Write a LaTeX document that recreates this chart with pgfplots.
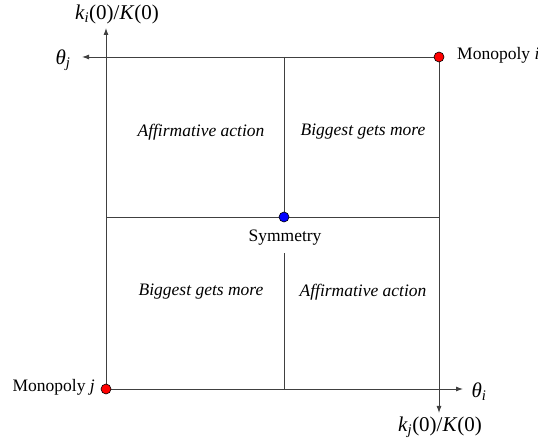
\documentclass[border=0pt]{standalone}
\usepackage{pgfplots}
\pgfplotsset{compat=1.18}
\usetikzlibrary{arrows.meta}
\usepackage{fontspec}
\setmainfont{Liberation Serif}
\definecolor{linegray}{HTML}{404040}
\begin{document}
\begin{tikzpicture}
\begin{axis}[
  width=538pt, height=447pt, scale only axis,
  xmin=0, xmax=538, ymin=0, ymax=447,
  hide axis, clip=false,
]
\addplot[draw=none, forget plot] coordinates {(0,0) (538,447)};
% outer axes with arrows
\addplot[linegray, line width=0.9pt, -{Latex[length=7pt,width=5pt]}] coordinates {(106,58) (106,419)};
\addplot[linegray, line width=0.9pt, -{Latex[length=7pt,width=5pt]}] coordinates {(439,390) (82,390)};
\addplot[linegray, line width=0.9pt, -{Latex[length=7pt,width=5pt]}] coordinates {(439,390) (439,34)};
\addplot[linegray, line width=0.9pt, -{Latex[length=7pt,width=5pt]}] coordinates {(106,58) (463,58)};
% middle lines
\addplot[linegray, line width=0.9pt] coordinates {(284,390) (284,58)};
\addplot[linegray, line width=0.9pt] coordinates {(106,230) (439,230)};
% Symmetry label with white background
\node[fill=white, inner xsep=2pt, minimum height=31pt, font=\fontsize{17.5}{20}\selectfont] at (axis cs:285,209.5) {Symmetry};
% dots
\addplot[only marks, mark=*, mark size=5pt, mark options={fill=red, draw=black, line width=0.6pt}] coordinates {(106,58) (439,390)};
\addplot[only marks, mark=*, mark size=5pt, mark options={fill=blue, draw=black, line width=0.6pt}] coordinates {(284,230)};
% axis labels
\node[font=\fontsize{21}{24}\selectfont] at (axis cs:117,433) {\textit{k}\textsubscript{\textit{i}}(0)/\textit{K}(0)};
\node[font=\fontsize{21}{24}\selectfont] at (axis cs:63,387) {\textit{θ}\textsubscript{\textit{j}}};
\node[font=\fontsize{21}{24}\selectfont] at (axis cs:479,55) {\textit{θ}\textsubscript{\textit{i}}};
\node[font=\fontsize{21}{24}\selectfont] at (axis cs:440,20) {\textit{k}\textsubscript{\textit{j}}(0)/\textit{K}(0)};
% monopoly labels
\node[anchor=west, font=\fontsize{17.5}{20}\selectfont, inner xsep=0pt] at (axis cs:457,392) {Monopoly \textit{i}};
\node[anchor=east, font=\fontsize{17.5}{20}\selectfont, inner xsep=0pt] at (axis cs:95,60) {Monopoly \textit{j}};
% region labels
\node[font=\fontsize{17.5}{20}\selectfont\itshape] at (axis cs:201,315) {Affirmative action};
\node[font=\fontsize{17.5}{20}\selectfont\itshape] at (axis cs:363,315) {Biggest gets more};
\node[font=\fontsize{17.5}{20}\selectfont\itshape] at (axis cs:201,155) {Biggest gets more};
\node[font=\fontsize{17.5}{20}\selectfont\itshape] at (axis cs:363,155) {Affirmative action};
\end{axis}
\pgfresetboundingbox
\path (current axis.south west) rectangle (current axis.north east);
\end{tikzpicture}
\end{document}
